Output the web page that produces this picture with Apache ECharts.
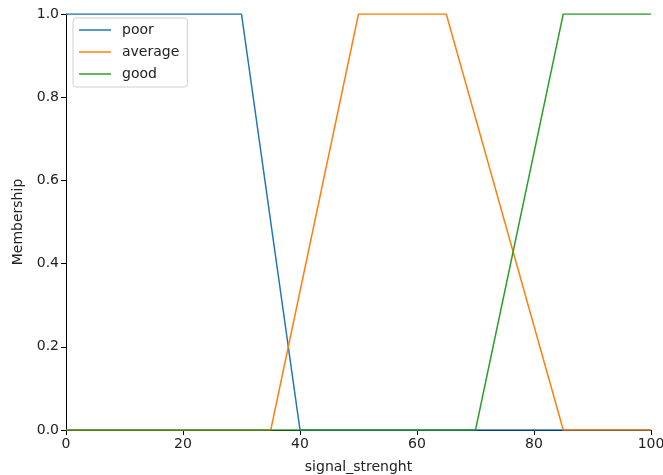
<!DOCTYPE html>
<html>
<head>
<meta charset="utf-8">
<script src="https://cdn.jsdelivr.net/npm/echarts@6/dist/echarts.min.js"></script>
<style>
  html, body { margin: 0; padding: 0; background: #fff; }
  #chart { width: 663px; height: 475px; }
</style>
</head>
<body>
<div id="chart"></div>
<script>
// membership functions (breakpoints)
const poorX = [0, 30, 40, 100];
const poorY = [1, 1, 0, 0];
const averageX = [0, 35, 50, 65, 85, 100];
const averageY = [0, 0, 1, 1, 0, 0];
const goodX = [0, 70, 85, 100];
const goodY = [0, 0, 1, 1];

const names = ['poor', 'average', 'good'];
const colors = ['#1f77b4', '#ff7f0e', '#2ca02c'];

const toPairs = (xs, ys) => xs.map((x, i) => [x, ys[i]]);
const seriesData = [toPairs(poorX, poorY), toPairs(averageX, averageY), toPairs(goodX, goodY)];

const font = 'DejaVu Sans';
const chart = echarts.init(document.getElementById('chart'), null, { renderer: 'canvas' });

const option = {
  animation: false,
  textStyle: { fontFamily: font },
  grid: { left: 66, right: 12, top: 14, bottom: 45, outerBoundsMode: 'none', containLabel: false },
  legend: {
    orient: 'vertical',
    left: 73,
    top: 18,
    data: names,
    icon: 'rect',
    itemWidth: 32,
    itemHeight: 1.5,
    itemGap: 8,
    padding: [5, 8, 6, 6],
    borderColor: '#d0d0d0',
    borderWidth: 1,
    borderRadius: 3,
    backgroundColor: 'rgba(255,255,255,0.8)',
    textStyle: { fontFamily: font, fontSize: 14, color: '#222', padding: [0, 0, 0, 6] }
  },
  xAxis: {
    type: 'value',
    min: 0,
    max: 100,
    interval: 20,
    name: 'signal_strenght',
    nameLocation: 'middle',
    nameGap: 30,
    nameTextStyle: { fontFamily: font, fontSize: 14, color: '#222' },
    splitLine: { show: false },
    axisLine: { lineStyle: { color: '#000', width: 1 } },
    axisTick: { length: 5, lineStyle: { color: '#000' } },
    axisLabel: { fontFamily: font, fontSize: 14, color: '#222', margin: 7 }
  },
  yAxis: {
    type: 'value',
    min: 0,
    max: 1,
    interval: 0.2,
    name: 'Membership',
    nameLocation: 'middle',
    nameGap: 41,
    nameTextStyle: { fontFamily: font, fontSize: 14, color: '#222' },
    splitLine: { show: false },
    axisLine: { show: true, lineStyle: { color: '#000', width: 1 } },
    axisTick: { show: true, length: 5, lineStyle: { color: '#000' } },
    axisLabel: { fontFamily: font, fontSize: 14, color: '#222', margin: 7,
      formatter: v => v.toFixed(1) }
  },
  series: names.map((n, i) => ({
    name: n,
    type: 'line',
    data: seriesData[i],
    symbol: 'none',
    color: colors[i],
    lineStyle: { width: 1.5, color: colors[i] },
    z: 2 + i
  }))
};

chart.setOption(option);
</script>
</body>
</html>
